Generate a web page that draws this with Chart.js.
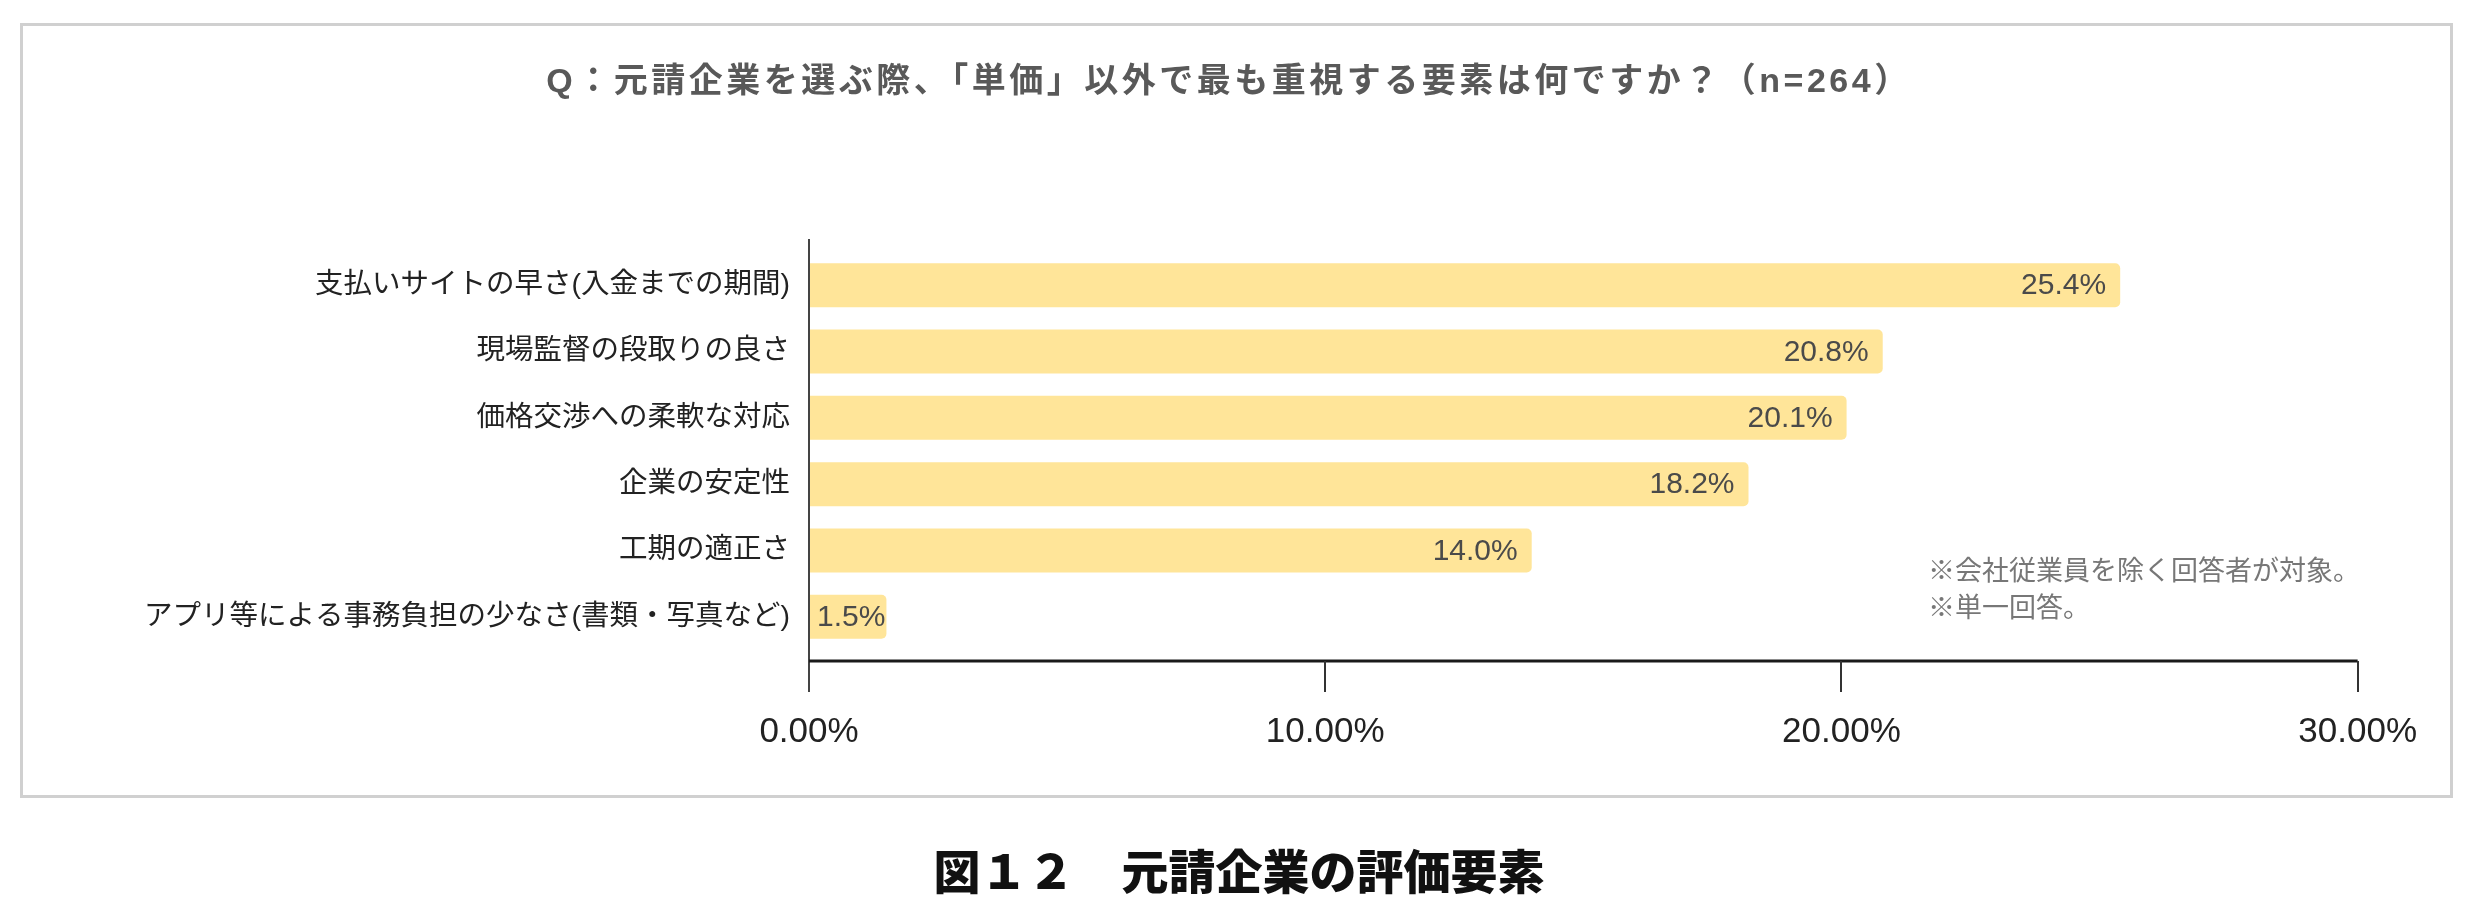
<!DOCTYPE html>
<html>
<head>
<meta charset="utf-8">
<script src="https://cdn.jsdelivr.net/npm/chart.js@4.4.1/dist/chart.umd.min.js"></script>
<style>
  html, body { margin: 0; padding: 0; background: #ffffff; }
  body { width: 2478px; height: 919px; position: relative; overflow: hidden; }
  #frame { position: absolute; left: 20px; top: 23px; width: 2433px; height: 775px; box-sizing: border-box; border: 3px solid #d0d0d0; background: #fff; }
  #wrap { position: absolute; left: 0; top: 0; width: 2478px; height: 919px; }
  #caption { position: absolute; left: 0; width: 2478px; top: 836px; text-align: center; font-family: 'Noto Sans CJK JP', sans-serif; font-weight: 900; font-size: 47px; line-height: 66px; color: #111; }
</style>
</head>
<body>
<div id="frame"></div>
<div id="wrap"><canvas id="c" width="2478" height="919"></canvas></div>
<div id="caption">図１２　元請企業の評価要素</div>
<script>
const categories = [
  '支払いサイトの早さ(入金までの期間)',
  '現場監督の段取りの良さ',
  '価格交渉への柔軟な対応',
  '企業の安定性',
  '工期の適正さ',
  'アプリ等による事務負担の少なさ(書類・写真など)'
];
const values = [25.4, 20.8, 20.1, 18.2, 14.0, 1.5];
const xTickValues = [0, 10, 20, 30];
const titleText = 'Q：元請企業を選ぶ際、「単価」以外で最も重視する要素は何ですか？（n=264）';
const noteLines = ['※会社従業員を除く回答者が対象。', '※単一回答。'];

const LATIN_CJK = "'Liberation Sans', 'Noto Sans CJK JP', sans-serif";

const valueLabelPlugin = {
  id: 'valueLabels',
  afterDatasetsDraw(chart) {
    const ctx = chart.ctx;
    const meta = chart.getDatasetMeta(0);
    ctx.save();
    ctx.font = "30px 'Liberation Sans', Arial, sans-serif";
    ctx.fillStyle = '#4a4a4a';
    ctx.textBaseline = 'middle';
    ctx.textAlign = 'left';
    meta.data.forEach((bar, i) => {
      const txt = values[i].toFixed(1) + '%';
      const w = ctx.measureText(txt).width;
      const left = Math.max(bar.x - 14 - w, bar.base + 8);
      ctx.fillText(txt, left, bar.y + 1);
    });
    ctx.restore();
  }
};

const decorPlugin = {
  id: 'decor',
  afterDatasetsDraw(chart) {
    const ctx = chart.ctx;
    const ca = chart.chartArea;
    const xs = chart.scales.x;
    const x0 = xs.getPixelForValue(0);
    const axisY = ca.bottom + 11;
    const tickEnd = axisY + 31;
    ctx.save();
    // vertical axis line
    ctx.strokeStyle = '#444';
    ctx.lineWidth = 2;
    ctx.beginPath();
    ctx.moveTo(x0, ca.top - 13);
    ctx.lineTo(x0, tickEnd);
    ctx.stroke();
    // horizontal axis line
    ctx.strokeStyle = '#1a1a1a';
    ctx.lineWidth = 3;
    ctx.beginPath();
    ctx.moveTo(x0, axisY);
    ctx.lineTo(xs.getPixelForValue(xTickValues[xTickValues.length - 1]), axisY);
    ctx.stroke();
    // tick marks
    ctx.strokeStyle = '#333';
    ctx.lineWidth = 2;
    xTickValues.slice(1).forEach(v => {
      const px = Math.round(xs.getPixelForValue(v));
      ctx.beginPath();
      ctx.moveTo(px, axisY);
      ctx.lineTo(px, tickEnd);
      ctx.stroke();
    });
    // notes
    ctx.font = "27px 'Noto Sans CJK JP', sans-serif";
    ctx.fillStyle = '#777777';
    ctx.textAlign = 'left';
    ctx.textBaseline = 'middle';
    ctx.fillText(noteLines[0], 1928, 570);
    ctx.fillText(noteLines[1], 1928, 607);
    // title
    ctx.font = "bold 34px " + LATIN_CJK;
    ctx.fillStyle = '#595959';
    ctx.textAlign = 'center';
    ctx.textBaseline = 'middle';
    if ('letterSpacing' in ctx) ctx.letterSpacing = '3.5px';
    ctx.fillText(titleText, 1229, 83);
    ctx.restore();
  }
};

new Chart(document.getElementById('c'), {
  type: 'bar',
  data: {
    labels: categories,
    datasets: [{
      data: values,
      backgroundColor: '#FFE599',
      borderWidth: 0,
      borderRadius: { topLeft: 0, bottomLeft: 0, topRight: 5, bottomRight: 5 },
      borderSkipped: false,
      categoryPercentage: 1.0,
      barPercentage: 0.663
    }]
  },
  options: {
    indexAxis: 'y',
    responsive: false,
    animation: false,
    devicePixelRatio: 1,
    layout: { padding: { left: 0, right: 108, top: 252, bottom: 0 } },
    plugins: {
      legend: { display: false },
      tooltip: { enabled: false },
      title: { display: false }
    },
    scales: {
      x: {
        type: 'linear',
        min: 0,
        max: 30,
        afterFit(scale) { scale.height = 269; },
        afterBuildTicks(scale) { scale.ticks = xTickValues.map(v => ({ value: v })); },
        grid: { display: false, drawTicks: false },
        border: { display: false },
        ticks: {
          padding: 61,
          color: '#222222',
          font: { family: "'Liberation Sans', Arial, sans-serif", size: 35 },
          callback: v => Number(v).toFixed(2) + '%'
        }
      },
      y: {
        type: 'category',
        offset: true,
        afterFit(scale) { scale.width = 809; },
        grid: { display: false, drawTicks: false },
        border: { display: false },
        ticks: {
          padding: 19,
          color: '#222222',
          font: { family: LATIN_CJK, size: 28.5 }
        }
      }
    }
  },
  plugins: [valueLabelPlugin, decorPlugin]
});
</script>
</body>
</html>
